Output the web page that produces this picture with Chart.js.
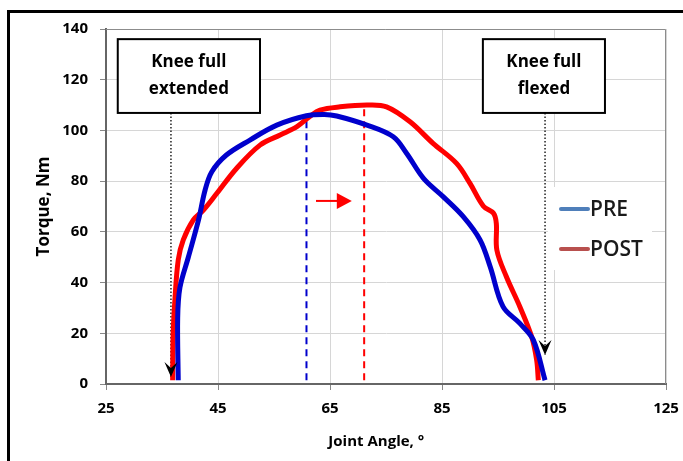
<!DOCTYPE html>
<html>
<head>
<meta charset="utf-8">
<script src="https://cdn.jsdelivr.net/npm/chart.js@4.4.1/dist/chart.umd.min.js"></script>
<style>
html, body { margin: 0; padding: 0; background: #fff; overflow: hidden; }
#wrap { position: relative; width: 683px; height: 461px; }
#frame { position: absolute; left: 7px; top: 10px; width: 700px; height: 500px;
         border-left: 3px solid #000; border-top: 3px solid #000; }
canvas { position: absolute; left: 0; top: 0; }
</style>
</head>
<body>
<div id="wrap">
  <div id="frame"></div>
  <canvas id="chart" width="683" height="461"></canvas>
</div>
<script>
const xTicks = [25, 45, 65, 85, 105, 125];
const yTicks = [0, 20, 40, 60, 80, 100, 120, 140];

const preAngle  = [37.9, 37.8, 38.2, 39.7, 41.5, 42.7, 43.9, 46.5, 50.7, 55.5, 60.8, 64.0, 66.2, 71.6, 76.3, 78.7, 81.7, 85.2, 88.8, 91.8, 93.6, 95.9, 98.9, 101.3, 103.4];
const preTorque = [1.5, 26, 38, 50, 64.5, 76.5, 83.7, 90.3, 96.2, 102.1, 105.8, 106.3, 105.7, 102.1, 97.5, 90.9, 81.1, 73.9, 66, 56.8, 46.3, 30.5, 23.9, 17.4, 1.5];

const postAngle  = [36.9, 37.0, 37.3, 37.9, 38.8, 40.6, 42.4, 44.8, 48.3, 52.5, 56.1, 59.1, 61.4, 63.2, 66.8, 71.6, 75.1, 79.3, 83.4, 87.6, 90.0, 92.4, 94.2, 94.7, 94.8, 96.5, 98.9, 101.0, 101.9, 102.2];
const postTorque = [1.5, 20, 33, 48.9, 56.8, 64.7, 68.6, 75.2, 85, 94.2, 98.2, 101.5, 105.5, 108, 109.3, 110, 109.3, 103.4, 94.9, 87, 79.1, 70.1, 67.3, 63.3, 52.8, 42.3, 30.5, 18.7, 9.5, 1.5];

// angle of peak torque, PRE then POST
const peakAngle  = [60.8, 71.1];
const peakTorque = [106, 110];

// knee position call-outs
const kneeLabels = [['Knee full', 'extended'], ['Knee full', 'flexed']];
const kneeAngle  = [36.6, 103.4];
const kneeTip    = [2.8, 11.4];

// red arrow showing the shift of the peak
const shiftAngle  = [62.5, 68.9];
const shiftTorque = 72.2;

// call-out boxes, in axis units
const kneeBoxes = [
  { x0: 27.1, x1: 52.5, y0: 106.9, y1: 136 },
  { x0: 92.3, x1: 114.1, y0: 106.9, y1: 136 }
];

const BLUE = '#0000CC';
const RED = '#FF0000';

const toPoints = (xs, ys) => xs.map((v, i) => ({ x: v, y: ys[i] }));
const vline = (ax, y0, y1) => [{ x: ax, y: y0 }, { x: ax, y: y1 }];

const decor = {
  id: 'decor',
  beforeDatasetsDraw(chart) {
    const { ctx, chartArea: a } = chart;
    ctx.save();
    ctx.strokeStyle = '#8c8c8c';
    ctx.lineWidth = 1;
    ctx.beginPath();
    ctx.moveTo(a.left, a.top + 0.5);
    ctx.lineTo(a.right - 0.5, a.top + 0.5);
    ctx.lineTo(a.right - 0.5, a.bottom);
    ctx.stroke();
    ctx.restore();
  },
  afterDatasetsDraw(chart) {
    const { ctx, chartArea: a, scales: { x, y } } = chart;
    ctx.save();

    kneeBoxes.forEach((b, i) => {
      const l = x.getPixelForValue(b.x0), r = x.getPixelForValue(b.x1);
      const t = y.getPixelForValue(b.y1), bt = y.getPixelForValue(b.y0);
      ctx.fillStyle = '#fff';
      ctx.fillRect(l, t, r - l, bt - t);
      ctx.strokeStyle = '#000';
      ctx.lineWidth = 2;
      ctx.strokeRect(l, t, r - l, bt - t);
      ctx.fillStyle = '#000';
      ctx.font = 'bold 17px "Open Sans"';
      ctx.textAlign = 'center';
      ctx.textBaseline = 'middle';
      const cx = (l + r) / 2, cy = (t + bt) / 2;
      kneeLabels[i].forEach((s, k) => ctx.fillText(s, cx, cy + (k - 0.5) * 27));

      // arrow head at the end of the dotted line
      const ax = x.getPixelForValue(kneeAngle[i]), ay = y.getPixelForValue(kneeTip[i]);
      ctx.beginPath();
      ctx.moveTo(ax, ay);
      ctx.lineTo(ax - 6.5, ay - 15);
      ctx.lineTo(ax, ay - 9);
      ctx.lineTo(ax + 6.5, ay - 15);
      ctx.closePath();
      ctx.fill();
    });

    // shift arrow head
    const hx = x.getPixelForValue(shiftAngle[1]), hy = y.getPixelForValue(shiftTorque);
    ctx.fillStyle = RED;
    ctx.beginPath();
    ctx.moveTo(hx, hy);
    ctx.lineTo(hx - 15, hy - 8);
    ctx.lineTo(hx - 15, hy + 8);
    ctx.closePath();
    ctx.fill();

    // legend
    const lx = a.right - 118, ly = a.top + 158;
    ctx.fillStyle = '#fff';
    ctx.fillRect(lx, ly, 104, 83);
    ctx.font = '600 21px "Open Sans"';
    ctx.textAlign = 'left';
    ctx.textBaseline = 'middle';
    ctx.lineWidth = 4;
    ctx.lineCap = 'round';
    [['PRE', '#4F7FBA'], ['POST', '#B8504E']].forEach(([name, col], i) => {
      const ry = ly + 22 + i * 40;
      ctx.strokeStyle = col;
      ctx.beginPath();
      ctx.moveTo(lx + 13, ry);
      ctx.lineTo(lx + 40, ry);
      ctx.stroke();
      ctx.fillStyle = '#1a1a1a';
      ctx.fillText(name, lx + 42, ry + 1);
    });
    ctx.restore();
  }
};

Chart.defaults.font.family = '"Open Sans", sans-serif';
Chart.defaults.color = '#000';

new Chart(document.getElementById('chart'), {
  type: 'line',
  data: {
    datasets: [
      { label: 'PRE', data: toPoints(preAngle, preTorque), borderColor: BLUE, borderWidth: 5, tension: 0.35 },
      { label: 'POST', data: toPoints(postAngle, postTorque), borderColor: RED, borderWidth: 5, tension: 0.35 },
      { label: 'PRE peak', data: vline(peakAngle[0], 1.5, peakTorque[0]), borderColor: BLUE, borderWidth: 2, borderDash: [7, 5] },
      { label: 'POST peak', data: vline(peakAngle[1], 1.5, peakTorque[1]), borderColor: RED, borderWidth: 2, borderDash: [7, 5] },
      { label: 'extended', data: vline(kneeAngle[0], kneeBoxes[0].y0, kneeTip[0]), borderColor: '#000', borderWidth: 1.3, borderDash: [1.5, 2] },
      { label: 'flexed', data: vline(kneeAngle[1], kneeBoxes[1].y0, kneeTip[1]), borderColor: '#000', borderWidth: 1.3, borderDash: [1.5, 2] },
      { label: 'shift', data: [{ x: shiftAngle[0], y: shiftTorque }, { x: shiftAngle[1] - 2.5, y: shiftTorque }], borderColor: RED, borderWidth: 2 }
    ]
  },
  options: {
    responsive: false,
    animation: false,
    devicePixelRatio: 1,
    elements: { point: { radius: 0 }, line: { fill: false, borderCapStyle: 'butt' } },
    layout: { padding: { left: 0, right: 17, top: 29, bottom: 0 } },
    plugins: { legend: { display: false }, tooltip: { enabled: false } },
    scales: {
      x: {
        type: 'linear',
        min: 25,
        max: 125,
        afterBuildTicks: s => { s.ticks = xTicks.map(v => ({ value: v })); },
        afterFit: s => { s.height = 77; s.paddingLeft = 0; s.paddingRight = 0; },
        grid: { color: '#d6d6d6', tickColor: '#888', tickLength: 6 },
        border: { color: '#666', width: 2 },
        ticks: { font: { size: 15, weight: 'bold' }, padding: 10, maxRotation: 0 },
        title: { display: true, text: 'Joint Angle, °     ', font: { size: 15, weight: 'bold' }, padding: { bottom: 10 } }
      },
      y: {
        min: 0,
        max: 140,
        afterBuildTicks: s => { s.ticks = yTicks.map(v => ({ value: v })); },
        afterFit: s => { s.width = 106; s.paddingTop = 0; s.paddingBottom = 0; },
        grid: { color: '#d6d6d6', tickColor: '#888', tickLength: 6 },
        border: { color: '#666', width: 2 },
        ticks: { font: { size: 15, weight: 'bold' }, padding: 12 },
        title: { display: true, text: 'Torque, Nm', font: { size: 17, weight: 'bold' }, padding: { top: 34 } }
      }
    }
  },
  plugins: [decor]
});
</script>
</body>
</html>
